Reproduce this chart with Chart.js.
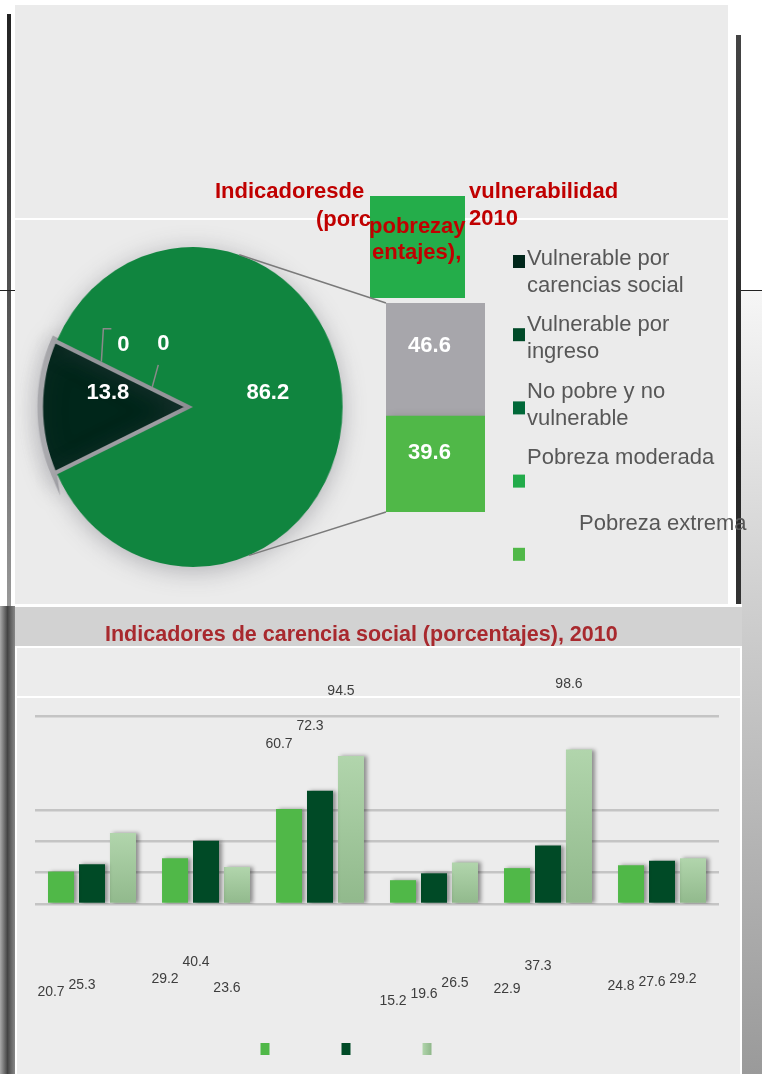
<!DOCTYPE html>
<html>
<head>
<meta charset="utf-8">
<script src="https://cdn.jsdelivr.net/npm/chart.js@4.4.1/dist/chart.umd.min.js"></script>
<style>
  body { margin: 0; width: 762px; height: 1074px; position: relative; overflow: hidden; background: #fff;
         font-family: "Liberation Sans", Arial, sans-serif; }
  .abs { position: absolute; }
  .rt { position: absolute; color: #c00000; font-weight: bold; font-size: 22px; line-height: 22px; white-space: pre; }
</style>
</head>
<body>
<!-- page edges -->
<div class="abs" style="left:7px;top:14px;width:4px;height:592px;background:linear-gradient(#222,#555 50%,#999)"></div>
<div class="abs" style="left:0;top:606px;width:15px;height:468px;background:linear-gradient(to right,#aaa,#444 50%,#888)"></div>
<div class="abs" style="left:0;top:290px;width:15px;height:1px;background:#222"></div>
<div class="abs" style="left:736px;top:35px;width:5px;height:1039px;background:linear-gradient(#444,#222 40%,#666)"></div>
<div class="abs" style="left:741px;top:290px;width:21px;height:784px;background:linear-gradient(#f6f6f6,#cfcfcf 40%,#9a9a9a)"></div>
<div class="abs" style="left:741px;top:290px;width:21px;height:1px;background:#222"></div>

<!-- panels -->
<div class="abs" style="left:15px;top:5px;width:713px;height:600px;background:#ebebeb"></div>
<div class="abs" style="left:15px;top:218px;width:713px;height:2px;background:#fff"></div>
<div class="abs" style="left:15px;top:604px;width:727px;height:3px;background:#fff"></div>
<div class="abs" style="left:15px;top:607px;width:727px;height:39px;background:#d2d2d2"></div>
<div class="abs" style="left:15px;top:646px;width:727px;height:428px;background:#ececec;border:2px solid #fff;border-bottom:0;box-sizing:border-box"></div>
<div class="abs" style="left:15px;top:696px;width:727px;height:2px;background:#fff"></div>
<div class="abs" style="left:370px;top:196px;width:95px;height:102px;background:#24ad4a"></div>

<canvas id="pie" class="abs" width="762" height="610" style="left:0;top:0;width:762px;height:610px;transform:scaleX(0.935);transform-origin:193px 0"></canvas>
<canvas id="sub" class="abs" width="762" height="610" style="left:0;top:0;width:762px;height:610px"></canvas>
<canvas id="bars" class="abs" width="762" height="434" style="left:0;top:640px;width:762px;height:434px"></canvas>

<!-- titles -->
<div class="rt" style="left:215px;top:180px">Indicadoresde</div>
<div class="rt" style="left:469px;top:180px">vulnerabilidad</div>
<div class="rt" style="left:316px;top:208px">(porc</div>
<div class="rt" style="left:369px;top:215px">pobrezay</div>
<div class="rt" style="left:469px;top:207px">2010</div>
<div class="rt" style="left:372px;top:241px">entajes),</div>
<div class="rt" style="left:105px;top:624px;color:#a8292e;font-size:21.5px;line-height:21.5px">Indicadores de carencia social (porcentajes), 2010</div>

<script>
// pobreza y vulnerabilidad
const pieLabels = ['Vulnerable por carencias social', 'Vulnerable por ingreso', 'No pobre y no vulnerable', 'Pobreza'];
const pieValues = [13.8, 0, 0, 86.2];
const subLabels = ['Pobreza extrema', 'Pobreza moderada'];
const subValues = [39.6, 46.6];
const legendLabels = ['Vulnerable por carencias social', 'Vulnerable por ingreso', 'No pobre y no vulnerable', 'Pobreza moderada', 'Pobreza extrema'];

// carencia social
const categories = ['Rezago educativo', 'Acceso a los servicios de salud', 'Acceso a la seguridad social',
  'Calidad y espacios de la vivienda', 'Acceso a los servicios básicos en la vivienda', 'Acceso a la alimentación'];
const seriesNames = ['Serie 1', 'Serie 2', 'Serie 3'];
const seriesA = [20.7, 29.2, 60.7, 15.2, 22.9, 24.8];
const seriesB = [25.3, 40.4, 72.3, 19.6, 37.3, 27.6];
const seriesC = [45.3, 23.6, 94.5, 26.5, 98.6, 29.2];
const unlabeled = [[2, 0]]; // no value label in the picture

const pieColors = ['#00261a', '#004a28', '#006838', '#10853f'];
const legendColors = ['#00261a', '#004a28', '#006838', '#22ab4a', '#50b848'];
const subColors = ['#50b848', '#a7a6ab'];
const PIE_SX = 0.935, PIE_OX = 193;
const labelFont = 'bold 22px "Liberation Sans", Arial, sans-serif';

const sx = x => PIE_OX + (x - PIE_OX) * PIE_SX;

const pieShadow = {
  id: 'pieShadow',
  beforeDatasetsDraw(c) {
    c.ctx.save();
    c.ctx.shadowColor = 'rgba(70,70,80,0.35)';
    c.ctx.shadowBlur = 24;
    c.ctx.shadowOffsetY = 4;
  },
  afterDatasetsDraw(c) { c.ctx.restore(); }
};

const pieChart = new Chart(document.getElementById('pie'), {
  type: 'pie',
  data: {
    labels: pieLabels,
    datasets: [{
      data: pieValues,
      backgroundColor: pieColors,
      borderColor: '#a9a9ad',
      borderWidth: [6, 0, 0, 0],
      borderJoinStyle: 'miter',
      offset: [11, 0, 0, 0]
    }]
  },
  options: {
    responsive: false,
    animation: false,
    events: [],
    radius: 160,
    rotation: 270 - pieValues[0] / pieValues.reduce((a, b) => a + b, 0) * 180,
    layout: { padding: { left: 18, top: 232, right: 394, bottom: 28 } },
    plugins: { legend: { display: false }, tooltip: { enabled: false } }
  },
  plugins: [pieShadow]
});

function wrap(ctx, text, maxW) {
  const words = text.split(' ');
  const lines = [];
  let cur = '';
  words.forEach(w => {
    const t = cur ? cur + ' ' + w : w;
    if (cur && ctx.measureText(t).width > maxW) { lines.push(cur); cur = w; } else cur = t;
  });
  lines.push(cur);
  return lines;
}

const subDecor = {
  id: 'subDecor',
  beforeDatasetDraw(c, args) {
    const ctx = c.ctx;
    ctx.save();
    if (args.index === 1) {
      ctx.shadowColor = 'rgba(150,149,155,1)';
      ctx.shadowBlur = 26;
    } else {
      ctx.shadowColor = 'rgba(0,0,0,0.25)';
      ctx.shadowBlur = 10;
      ctx.shadowOffsetX = 3;
      ctx.shadowOffsetY = 3;
    }
  },
  afterDatasetDraw(c) { c.ctx.restore(); },
  afterDraw(c) {
    const ctx = c.ctx;
    const pm = pieChart.getDatasetMeta(0);
    const ds = pieChart.data.datasets[0];
    const a0 = pm.data[0];
    const cx = a0.x, cy = a0.y, R = a0.outerRadius;

    // connector lines from the pie to the stacked bar
    const topBar = c.getDatasetMeta(1).data[0];
    const botBar = c.getDatasetMeta(0).data[0];
    const left = topBar.x - topBar.width / 2;
    const angTop = -72 * Math.PI / 180, angBot = 68 * Math.PI / 180;
    ctx.save();
    ctx.strokeStyle = '#7a7a7a';
    ctx.lineWidth = 1.5;
    ctx.beginPath();
    ctx.moveTo(sx(cx + Math.cos(angTop) * R), cy + Math.sin(angTop) * R);
    ctx.lineTo(left, topBar.y);
    ctx.moveTo(sx(cx + Math.cos(angBot) * R), cy + Math.sin(angBot) * R);
    ctx.lineTo(left, botBar.base);
    ctx.stroke();

    // pie values
    ctx.font = labelFont;
    ctx.fillStyle = '#fff';
    ctx.textAlign = 'center';
    ctx.textBaseline = 'middle';
    let zeroCount = 0;
    pm.data.forEach((arc, i) => {
      const v = ds.data[i];
      const mid = (arc.startAngle + arc.endAngle) / 2;
      if (v > 0) {
        const d = (arc.options.offset || 0) + R * 0.5;
        ctx.fillText(String(v), sx(cx + Math.cos(mid) * d), cy + Math.sin(mid) * d - 14);
      } else {
        const f = zeroCount === 0 ? 0.675 : 0.3;
        const px = sx(cx + Math.cos(mid) * R * f), py = cy + Math.sin(mid) * R * f;
        ctx.strokeStyle = '#8a8a8a';
        ctx.beginPath();
        ctx.moveTo(px, py);
        let ex, ey;
        if (zeroCount === 0) {
          ctx.lineTo(px + 2, py - 33);
          ctx.lineTo(px + 10, py - 33);
          ex = px + 22; ey = py - 17;
        } else {
          ctx.lineTo(px + 6, py - 22);
          ex = px + 11; ey = py - 43;
        }
        ctx.stroke();
        ctx.fillText(String(v), ex, ey);
        zeroCount++;
      }
    });

    // stacked bar values
    c.data.datasets.forEach((d, i) => {
      c.getDatasetMeta(i).data.forEach((el, j) => {
        ctx.fillText(String(d.data[j]), el.x - 6, el.y + (el.base - el.y) * 0.38);
      });
    });

    // legend
    ctx.font = '22px "Liberation Sans", Arial, sans-serif';
    ctx.textAlign = 'left';
    ctx.textBaseline = 'alphabetic';
    legendLabels.forEach((lab, i) => {
      ctx.fillStyle = legendColors[i];
      ctx.fillRect(513, 255 + i * 73.2, 12, 13);
      ctx.fillStyle = '#575757';
      const tx = i === 4 ? 579 : 527;
      wrap(ctx, lab, 200).forEach((ln, j) => ctx.fillText(ln, tx, 265 + i * 66.3 + j * 27));
    });
    ctx.restore();
  }
};

const subTotal = subValues.reduce((a, b) => a + b, 0);
new Chart(document.getElementById('sub'), {
  type: 'bar',
  data: {
    labels: ['Pobreza'],
    datasets: subLabels.map((l, i) => ({
      label: l, data: [subValues[i]], backgroundColor: subColors[i],
      barPercentage: 1, categoryPercentage: 1
    }))
  },
  options: {
    responsive: false,
    animation: false,
    events: [],
    layout: { padding: { left: 386, right: 277, top: 303, bottom: 98 } },
    scales: {
      x: { display: false, stacked: true },
      y: { display: false, stacked: true, min: 0, max: subTotal }
    },
    plugins: { legend: { display: false }, tooltip: { enabled: false } }
  },
  plugins: [subDecor]
});

// ---- bar chart ----
function lightFill(ctx) {
  const chart = ctx.chart;
  const y = chart.scales && chart.scales.y;
  if (!y || ctx.raw === undefined || !chart.chartArea) return '#a6cba1';
  const g = chart.ctx.createLinearGradient(0, y.getPixelForValue(ctx.raw), 0, y.getPixelForValue(0));
  g.addColorStop(0, '#b1d5ac');
  g.addColorStop(1, '#91b98c');
  return g;
}

const barDecor = {
  id: 'barDecor',
  beforeDatasetsDraw(c) {
    c.ctx.save();
    c.ctx.shadowColor = 'rgba(0,0,0,0.4)';
    c.ctx.shadowBlur = 4;
    c.ctx.shadowOffsetX = 3;
  },
  afterDatasetsDraw(c) {
    const ctx = c.ctx;
    ctx.restore();
    ctx.save();
    ctx.font = '14px "Liberation Sans", Arial, sans-serif';
    ctx.fillStyle = '#3d3d3d';
    ctx.textAlign = 'center';
    ctx.textBaseline = 'middle';
    c.data.datasets.forEach((d, i) => {
      c.getDatasetMeta(i).data.forEach((el, j) => {
        if (unlabeled.some(u => u[0] === i && u[1] === j)) return;
        const v = d.data[j];
        ctx.fillText(String(v), el.x - 10, v > 50 ? el.y - 65 : el.y + 121);
      });
    });
    // legend swatches (no text in the picture)
    const cx = (c.chartArea.left + c.chartArea.right) / 2;
    const top = c.chartArea.bottom + 139;
    const cols = ['#50b848', '#004a26', null];
    cols.forEach((col, i) => {
      const x = cx - 112 + i * 81 - 4.5;
      if (col) ctx.fillStyle = col;
      else {
        const g = ctx.createLinearGradient(x, 0, x + 9, 0);
        g.addColorStop(0, '#b1d5ac');
        g.addColorStop(1, '#8fb78a');
        ctx.fillStyle = g;
      }
      ctx.fillRect(x, top, 9, 12);
    });
    ctx.restore();
  }
};

new Chart(document.getElementById('bars'), {
  type: 'bar',
  data: {
    labels: categories,
    datasets: [
      { label: seriesNames[0], data: seriesA, backgroundColor: '#50b848' },
      { label: seriesNames[1], data: seriesB, backgroundColor: '#004a26' },
      { label: seriesNames[2], data: seriesC, backgroundColor: lightFill }
    ]
  },
  options: {
    responsive: false,
    animation: false,
    events: [],
    barPercentage: 0.84,
    categoryPercentage: 0.815,
    layout: { padding: { left: 35, right: 43, top: 76, bottom: 170 } },
    scales: {
      x: { display: false },
      y: {
        min: 0, max: 120,
        ticks: { display: false, stepSize: 20 },
        border: { display: false },
        grid: {
          drawTicks: false,
          lineWidth: 2.5,
          color: ctx => (ctx.tick && (ctx.tick.value === 80 || ctx.tick.value === 100)) ? 'rgba(0,0,0,0)' : '#c4c4c4'
        }
      }
    },
    plugins: { legend: { display: false }, tooltip: { enabled: false } }
  },
  plugins: [barDecor]
});
</script>
</body>
</html>
